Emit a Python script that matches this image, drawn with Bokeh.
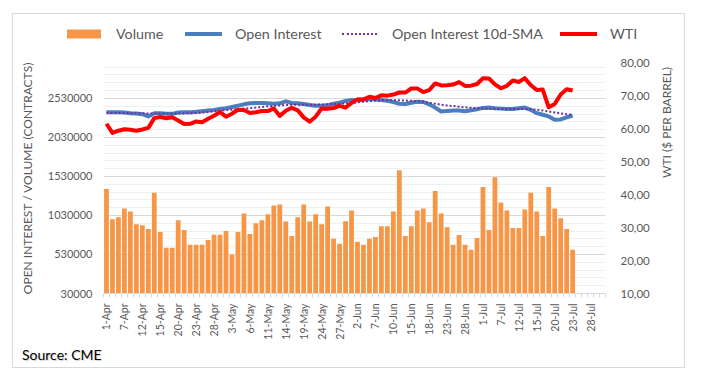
import math
from bokeh.plotting import figure
from bokeh.layouts import column
from bokeh.models import Range1d, LinearAxis, FixedTicker, ColumnDataSource, Div
from bokeh.embed import file_html
from bokeh.resources import INLINE

# trading-day categories (2021)
dates = [
    "1-Apr", "5-Apr", "6-Apr", "7-Apr", "8-Apr", "9-Apr", "12-Apr", "13-Apr", "14-Apr", "15-Apr", "16-Apr",
    "19-Apr", "20-Apr", "21-Apr", "22-Apr", "23-Apr", "26-Apr", "27-Apr", "28-Apr", "29-Apr", "30-Apr",
    "3-May", "4-May", "5-May", "6-May", "7-May", "10-May", "11-May", "12-May", "13-May", "14-May",
    "17-May", "18-May", "19-May", "20-May", "21-May", "24-May", "25-May", "26-May", "27-May", "28-May",
    "1-Jun", "2-Jun", "3-Jun", "4-Jun", "7-Jun", "8-Jun", "9-Jun", "10-Jun", "11-Jun",
    "14-Jun", "15-Jun", "16-Jun", "17-Jun", "18-Jun", "21-Jun", "22-Jun", "23-Jun", "24-Jun", "25-Jun",
    "28-Jun", "29-Jun", "30-Jun", "1-Jul", "2-Jul", "6-Jul", "7-Jul", "8-Jul", "9-Jul",
    "12-Jul", "13-Jul", "14-Jul", "15-Jul", "16-Jul", "19-Jul", "20-Jul", "21-Jul", "22-Jul", "23-Jul",
    "26-Jul", "27-Jul", "28-Jul", "29-Jul", "30-Jul",
]

volume = [
    1370000, 981000, 1006000, 1119000, 1082000, 918000, 906000, 855000, 1320000, 818000,
    617000, 617000, 968000, 843000, 654000, 654000, 654000, 717000, 784000, 784000,
    830000, 529000, 818000, 1056000, 792000, 931000, 968000, 1044000, 1157000, 1169000,
    951000, 767000, 1006000, 1169000, 951000, 1044000, 918000, 1144000, 730000, 667000,
    956000, 1094000, 692000, 654000, 730000, 755000, 893000, 893000, 1082000, 1609000,
    767000, 893000, 1094000, 1119000, 943000, 1345000, 1056000, 880000, 654000, 780000,
    654000, 592000, 742000, 1396000, 843000, 1521000, 1195000, 1094000, 868000, 868000,
    1107000, 1320000, 1082000, 767000, 1396000, 1119000, 994000, 855000, 592000,
]

open_interest = [
    2353000, 2353000, 2353000, 2349000, 2341000, 2337000, 2328000, 2299000, 2341000, 2341000,
    2332000, 2332000, 2349000, 2353000, 2353000, 2358000, 2366000, 2374000, 2383000, 2395000,
    2404000, 2420000, 2437000, 2454000, 2467000, 2471000, 2471000, 2467000, 2462000, 2467000,
    2492000, 2471000, 2467000, 2458000, 2446000, 2437000, 2437000, 2441000, 2462000, 2475000,
    2496000, 2510000, 2505000, 2513000, 2521000, 2517000, 2509000, 2500000, 2484000, 2462000,
    2458000, 2475000, 2488000, 2484000, 2454000, 2412000, 2362000, 2370000, 2374000, 2374000,
    2366000, 2379000, 2391000, 2408000, 2412000, 2404000, 2399000, 2395000, 2395000, 2404000,
    2412000, 2383000, 2341000, 2320000, 2299000, 2257000, 2261000, 2286000, 2311000,
]

oi_sma = [
    2345000, 2344000, 2343000, 2342000, 2341000, 2340000, 2339000, 2337000, 2337000, 2336000,
    2336000, 2336000, 2337000, 2338000, 2340000, 2343000, 2348000, 2356000, 2365000, 2373000,
    2380000, 2386000, 2393000, 2400000, 2405000, 2412000, 2420000, 2428000, 2435000, 2440000,
    2445000, 2448000, 2450000, 2450000, 2449000, 2450000, 2452000, 2455000, 2458000, 2462000,
    2467000, 2472000, 2480000, 2488000, 2495000, 2502000, 2507000, 2508000, 2507000, 2505000,
    2502000, 2500000, 2496000, 2488000, 2475000, 2462000, 2450000, 2440000, 2432000, 2424000,
    2416000, 2410000, 2405000, 2400000, 2397000, 2396000, 2395000, 2395000, 2395000, 2394000,
    2393000, 2391000, 2385000, 2375000, 2362000, 2350000, 2338000, 2328000, 2318000,
]

wti = [
    61.45, 58.65, 59.33, 59.77, 59.60, 59.32, 59.70, 60.18, 63.15, 63.46,
    63.13, 63.38, 62.44, 61.35, 61.43, 62.14, 61.91, 62.94, 63.86, 65.01,
    63.58, 64.49, 65.69, 65.63, 64.71, 64.90, 65.28, 65.28, 66.08, 63.82,
    65.37, 66.27, 65.49, 63.36, 62.05, 63.58, 66.05, 65.99, 66.21, 66.85,
    66.32, 67.72, 68.83, 68.81, 69.62, 69.23, 70.05, 69.96, 70.29, 70.91,
    70.88, 72.12, 72.15, 71.04, 71.64, 73.66, 73.06, 73.08, 73.30, 74.05,
    72.91, 72.98, 73.47, 75.23, 75.16, 73.37, 72.20, 72.94, 74.56, 74.10,
    75.25, 73.13, 71.65, 71.81, 66.42, 67.42, 70.30, 71.91, 71.50,
]

left_ticks = [30000, 530000, 1030000, 1530000, 2030000, 2530000]
right_ticks = [10, 20, 30, 40, 50, 60, 70, 80]
series_names = ["Volume", "Open Interest", "Open Interest 10d-SMA", "WTI"]
source_note = "Source: CME"

FONT = "Lato"
GREY = "#595959"
C_VOL, C_OI, C_SMA, C_WTI = "#F79646", "#4A7EBF", "#7030A0", "#FF0000"
W = 671

n = len(volume)
src = ColumnDataSource(dict(x=list(range(n)), vol=volume, oi=open_interest, sma=oi_sma, wti=wti))

p = figure(width=W, height=288, output_backend="svg", toolbar_location=None,
           x_range=Range1d(-0.5, len(dates) - 0.5), y_range=Range1d(30000, 2990000),
           min_border_left=90, min_border_right=72, min_border_top=8, min_border_bottom=45,
           outline_line_color=None, background_fill_color="white", border_fill_color="white")
p.extra_y_ranges = {"wti": Range1d(10, 80)}

p.vbar(x="x", top="vol", bottom=30000, width=0.8, source=src, fill_color=C_VOL, line_color=None)
p.line("x", "oi", source=src, line_color=C_OI, line_width=4, line_join="round")
p.line("x", "sma", source=src, line_color=C_SMA, line_width=2, line_dash="2 2")
p.line("x", "wti", source=src, y_range_name="wti", line_color=C_WTI, line_width=4, line_join="round")

# x axis
xa = p.xaxis[0]
xa.ticker = FixedTicker(ticks=list(range(0, len(dates), 3)),
                        minor_ticks=[i - 0.5 for i in range(len(dates) + 1)])
xa.major_label_overrides = {i: dates[i] for i in range(0, len(dates), 3)}
xa.major_label_orientation = math.pi / 2
xa.major_tick_line_color = None
xa.minor_tick_line_color = "#d9d9d9"
xa.minor_tick_out = 4
xa.minor_tick_in = 0
xa.axis_line_color = "#d9d9d9"
xa.major_label_text_font = FONT
xa.major_label_text_font_size = "10.5px"
xa.major_label_text_color = GREY
xa.major_label_standoff = 4
p.xgrid.visible = False

# left axis
ya = p.yaxis[0]
minor_left = [v for v in range(130000, 2990000, 100000) if (v - 30000) % 500000 != 0]
ya.ticker = FixedTicker(ticks=left_ticks, minor_ticks=minor_left)
ya.major_label_overrides = {v: str(v) for v in left_ticks}
ya.axis_line_color = None
ya.major_tick_line_color = None
ya.minor_tick_line_color = None
ya.major_label_text_font = FONT
ya.major_label_text_font_size = "11px"
ya.major_label_text_color = GREY
ya.major_label_standoff = 5
ya.axis_label = "OPEN INTEREST / VOLUME (CONTRACTS)"
ya.axis_label_text_font = FONT
ya.axis_label_text_font_size = "12px"
ya.axis_label_text_font_style = "normal"
ya.axis_label_text_color = GREY
ya.axis_label_standoff = 10
p.ygrid.grid_line_color = "#d9d9d9"
p.ygrid.minor_grid_line_color = "#f0f0f0"

# right axis
ra = LinearAxis(y_range_name="wti", ticker=FixedTicker(ticks=right_ticks))
ra.major_label_overrides = {v: f"{v},00" for v in right_ticks}
ra.axis_line_color = None
ra.major_tick_line_color = None
ra.minor_tick_line_color = None
ra.major_label_text_font = FONT
ra.major_label_text_font_size = "11.5px"
ra.major_label_text_color = GREY
ra.major_label_standoff = 9
ra.axis_label = "WTI ($ PER BARREL)"
ra.axis_label_text_font = FONT
ra.axis_label_text_font_size = "12px"
ra.axis_label_text_font_style = "normal"
ra.axis_label_text_color = GREY
ra.axis_label_standoff = 14
if "axis_label_orientation" in ra.properties():
    ra.axis_label_orientation = math.pi / 2
p.add_layout(ra, "right")

# legend strip above the chart
swatches = [
    f"width:34px;height:9px;background:{C_VOL};",
    f"width:37px;height:0;border-top:4px solid {C_OI};",
    f"width:35px;height:0;border-top:2px dotted {C_SMA};",
    f"width:37px;height:0;border-top:4px solid {C_WTI};",
]
glyph_left = [54, 172, 329, 547]
text_left = [103, 222, 379, 597]
items_html = ""
for name, sw, gl, tl in zip(series_names, swatches, glyph_left, text_left):
    items_html += (f'<span style="position:absolute;left:{gl}px;top:50%;transform:translateY(-50%);'
                   f'display:block;{sw}"></span>'
                   f'<span style="position:absolute;left:{tl}px;top:50%;transform:translateY(-50%);'
                   f'white-space:nowrap;">{name}</span>')
legend_div = Div(text=f'<div style="position:relative;width:{W}px;height:40px;font-family:Lato;'
                      f'font-size:14.3px;color:{GREY};">{items_html}</div>',
                 width=W, height=40, styles={"margin": "0", "padding": "0"})

source_div = Div(text=f'<div style="width:{W}px;height:25px;line-height:25px;padding-left:9px;'
                      f'font-family:Lato;font-size:14px;color:#000;'
                      f'text-shadow:1px 1px 1px rgba(0,0,0,0.2);">{source_note}</div>',
                 width=W, height=25, styles={"margin": "0", "padding": "0"})

layout = column(legend_div, p, source_div, spacing=0,
                styles={"margin-left": "12px", "margin-top": "13px", "border": "1px solid #d9d9d9"})

open("out.html", "w").write(file_html(layout, INLINE))
